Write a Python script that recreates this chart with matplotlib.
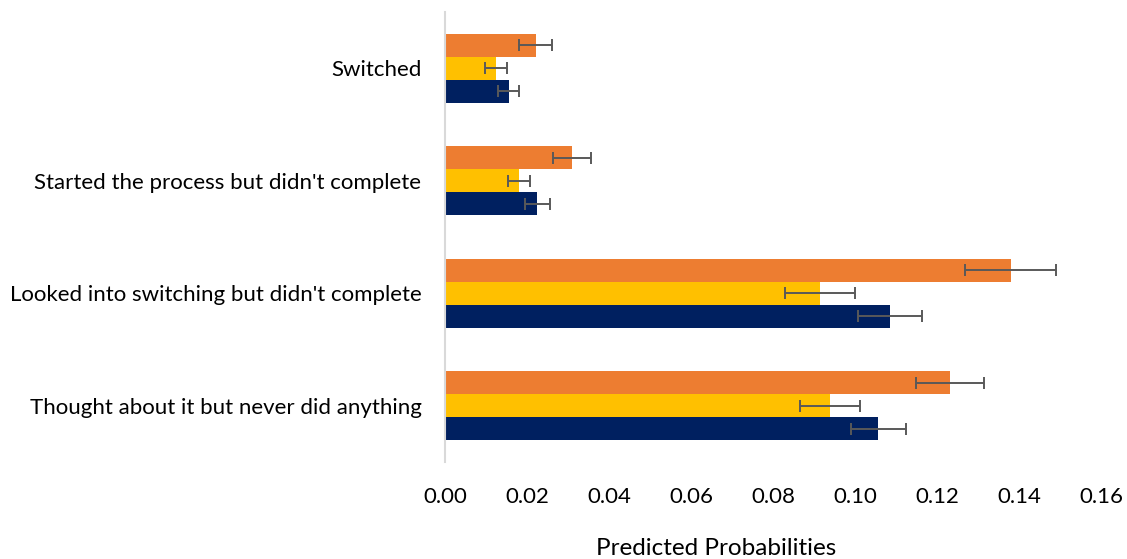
import matplotlib
matplotlib.use("Agg")
import matplotlib.pyplot as plt
import numpy as np

plt.rcParams['font.family'] = ['Lato', 'DejaVu Sans']

categories = ["Switched",
              "Started the process but didn't complete",
              "Looked into switching but didn't complete",
              "Thought about it but never did anything"]

# series values per category (top-to-bottom order of categories)
navy_vals = [0.0155, 0.0225, 0.1085, 0.1057]
navy_err = [0.0026, 0.0030, 0.0078, 0.0067]
yellow_vals = [0.0124, 0.0181, 0.0915, 0.0939]
yellow_err = [0.0026, 0.0027, 0.0085, 0.0074]
orange_vals = [0.0221, 0.0309, 0.1380, 0.1232]
orange_err = [0.0040, 0.0046, 0.0111, 0.0083]

xticks = [0.00, 0.02, 0.04, 0.06, 0.08, 0.10, 0.12, 0.14, 0.16]
xlabel = "Predicted Probabilities"

fig = plt.figure(figsize=(11.27, 5.59), dpi=100)
ax = fig.add_axes([445/1127, (559-462)/559, (1101-445)/1127, 450/559])

n = len(categories)
pos = np.arange(n)[::-1].astype(float)  # Switched at top
h = 0.205
err_kw = dict(ecolor='#595959', elinewidth=1.4, capsize=4.2, capthick=1.4)
ax.barh(pos - h, navy_vals, height=h, color='#002060', xerr=navy_err, error_kw=err_kw)
ax.barh(pos, yellow_vals, height=h, color='#FFC000', xerr=yellow_err, error_kw=err_kw)
ax.barh(pos + h, orange_vals, height=h, color='#ED7D31', xerr=orange_err, error_kw=err_kw)

fs = 16
ax.set_xlim(0, 0.16)
ax.set_ylim(-0.5, n - 0.5)
ax.set_yticks(pos)
ax.set_yticklabels(categories, fontsize=fs, color='#000000')
ax.set_xticks(xticks)
ax.set_xticklabels([f"{t:.2f}" for t in xticks], fontsize=fs, color='#000000')
ax.tick_params(axis='both', length=0)
ax.tick_params(axis='y', pad=17)
ax.tick_params(axis='x', pad=18)
ax.set_xlabel(xlabel, fontsize=17.5, va='baseline', ha='center')
ax.xaxis.set_label_coords((716 - 445) / 656, -(555 - 462) / 450)

for s in ['top', 'right', 'bottom']:
    ax.spines[s].set_visible(False)
ax.spines['left'].set_color('#D9D9D9')
ax.spines['left'].set_linewidth(1.5)

fig.savefig("out.png", dpi=100)
